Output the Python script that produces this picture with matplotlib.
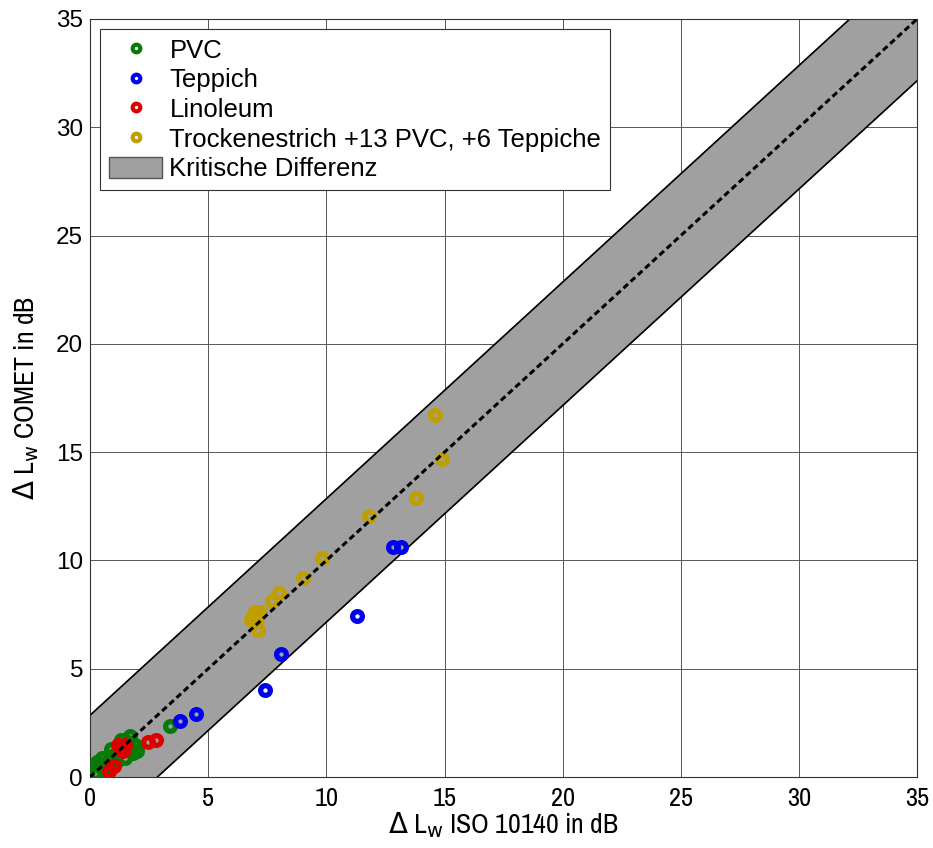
import numpy as np
import matplotlib.pyplot as plt
from matplotlib import font_manager as fm
from matplotlib.patches import Patch
from matplotlib.lines import Line2D

# data (x = ISO 10140, y = COMET), all in dB
pvc_x = [0.2, 0.4, 0.6, 0.8, 0.7, 1.0, 0.9, 1.2, 1.4, 1.6, 1.7, 1.9, 1.8, 1.5, 1.1,
         0.3, 0.5, 1.3, 2.0, 0.9, 3.4]
pvc_y = [0.2, 0.5, 0.4, 0.8, 0.2, 1.0, 1.3, 1.1, 1.3, 1.6, 1.9, 1.5, 1.1, 0.9, 0.7,
         0.7, 0.9, 1.7, 1.2, 0.5, 2.35]
tep_x = [3.8, 4.5, 7.4, 8.1, 11.3, 12.8, 13.15]
tep_y = [2.6, 2.9, 4.0, 5.7, 7.45, 10.6, 10.6]
lin_x = [1.3, 1.5, 1.4, 1.2, 1.0, 2.45, 2.8, 0.8]
lin_y = [1.3, 1.5, 1.2, 1.5, 0.5, 1.6, 1.7, 0.3]
tro_x = [6.8, 6.9, 7.0, 7.1, 7.2, 7.1, 7.7, 8.0, 9.0, 9.8, 11.8, 13.8, 14.9, 14.6]
tro_y = [7.25, 7.5, 7.6, 7.4, 7.6, 6.8, 8.15, 8.5, 9.2, 10.1, 12.05, 12.9, 14.7, 16.7]
crit_diff = 2.85

c_pvc = '#087a08'
c_tep = '#0000f0'
c_lin = '#dd0000'
c_tro = '#bf9f00'

plt.rcParams['font.family'] = ['Liberation Sans', 'DejaVu Sans']

# narrow font for the axis labels if there is one
names = sorted({f.name for f in fm.fontManager.ttflist})
narrow = [n for n in names if 'Narrow' in n or 'Condensed' in n]
nfam = narrow[:1] + ['Liberation Sans', 'DejaVu Sans']
nsize = 20 if narrow else 15

fig = plt.figure(figsize=(9.33, 8.48), dpi=100)
ax = fig.add_axes([0.0965, 0.0837, 0.8865, 0.8939])

xl = np.array([0, 35])
ax.fill_between(xl, xl - crit_diff, xl + crit_diff, color='#a0a0a0', zorder=1)
ax.plot(xl, xl + crit_diff, color='k', lw=1.2, zorder=2)
ax.plot(xl, xl - crit_diff, color='k', lw=1.2, zorder=2)
ax.plot(xl, xl, color='k', lw=2.2, ls=(0, (2, 1.2)), zorder=5)

mk = dict(marker='o', ls='none', mfc='none', ms=7, mew=3.8, zorder=3)
ax.plot(pvc_x, pvc_y, mec=c_pvc, **mk)
ax.plot(tep_x, tep_y, mec=c_tep, **mk)
ax.plot(lin_x, lin_y, mec=c_lin, **mk)
ax.plot(tro_x, tro_y, mec=c_tro, **mk)

ax.set_xlim(0, 35)
ax.set_ylim(0, 35)
ax.set_xticks(range(0, 36, 5))
ax.set_yticks(range(0, 36, 5))
ax.grid(True, color='#555555', lw=0.7)
ax.set_axisbelow(True)
ax.tick_params(direction='in', length=0, labelsize=17.5)
ax.tick_params(axis='y', pad=5)
ax.tick_params(axis='x', pad=7, labelsize=19)
for lab in ax.get_xticklabels():
    lab.set_family(nfam)
for s in ax.spines.values():
    s.set_color('#333333')

ax.set_xlabel(r'$\Delta$ L$_\mathrm{w}$ ISO 10140 in dB', fontsize=nsize,
              family=nfam, labelpad=0)
ax.set_ylabel(r'$\Delta$ L$_\mathrm{w}$ COMET in dB', fontsize=nsize,
              family=nfam, labelpad=11)

lm = dict(marker='o', ls='none', mfc='none', ms=5.5, mew=3)
handles = [Line2D([], [], mec=c_pvc, **lm),
           Line2D([], [], mec=c_tep, **lm),
           Line2D([], [], mec=c_lin, **lm),
           Line2D([], [], mec=c_tro, **lm),
           Patch(facecolor='#a0a0a0', edgecolor='#555555')]
labels = ['PVC', 'Teppich', 'Linoleum', 'Trockenestrich +13 PVC, +6 Teppiche',
          'Kritische Differenz']
leg = ax.legend(handles, labels, loc='upper left', fontsize=18.5, fancybox=False,
                edgecolor='#333333', framealpha=1, borderaxespad=0.4,
                handlelength=2.07, handleheight=0.9, handletextpad=0.27,
                labelspacing=0.2, borderpad=0.35)
leg.get_frame().set_linewidth(0.8)

fig.savefig('out.png', dpi=100)
